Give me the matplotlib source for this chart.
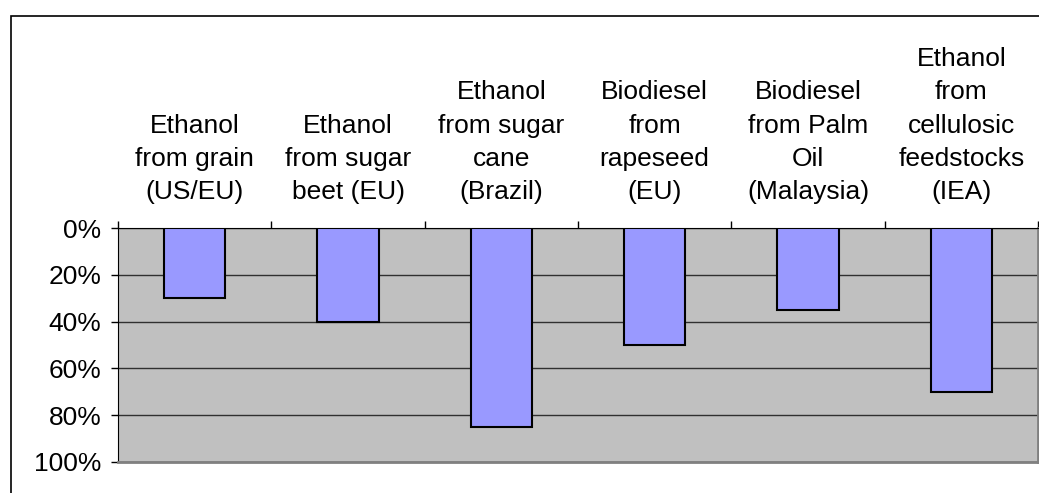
import numpy as np
import matplotlib
matplotlib.use("Agg")
import matplotlib.pyplot as plt
from matplotlib.patches import Rectangle
from matplotlib.ticker import FuncFormatter

plt.rcParams["font.family"] = ["Liberation Sans", "DejaVu Sans"]

categories = [
    "Ethanol\nfrom grain\n(US/EU)",
    "Ethanol\nfrom sugar\nbeet (EU)",
    "Ethanol\nfrom sugar\ncane\n(Brazil)",
    "Biodiesel\nfrom\nrapeseed\n(EU)",
    "Biodiesel\nfrom Palm\nOil\n(Malaysia)",
    "Ethanol\nfrom\ncellulosic\nfeedstocks\n(IEA)",
]
reduction = [30, 40, 85, 50, 35, 70]   # % reduction, plotted downwards
y_ticks = [0, 20, 40, 60, 80, 100]

fig = plt.figure(figsize=(10.39, 4.93), dpi=100)
ax = fig.add_axes([0.1136, 0.0629, 0.8854, 0.4746])

centers = np.arange(len(categories)) + 0.5
ax.bar(centers, reduction, width=0.4, color="#9999FF",
       edgecolor="black", linewidth=1.5, zorder=3)

ax.set_facecolor("#C0C0C0")
ax.set_xlim(0, len(categories))
ax.set_ylim(100, 0)

ax.set_yticks(y_ticks)
ax.yaxis.set_major_formatter(FuncFormatter(lambda v, p: f"{v:.0f}%"))
ax.yaxis.grid(True, color="#303030", linewidth=1.0, zorder=1)
ax.set_axisbelow(True)

# boundary ticks on top, category names as minor tick labels
ax.xaxis.tick_top()
ax.set_xticks(np.arange(len(categories) + 1))
ax.set_xticklabels([])
ax.set_xticks(centers, categories, minor=True)
ax.tick_params(axis="x", which="major", direction="out", length=5,
               width=1, color="black")
ax.tick_params(axis="x", which="minor", length=0, pad=17, labelsize=19)
ax.tick_params(axis="y", direction="out", length=5, width=1,
               labelsize=19, pad=7)
for lbl in ax.get_xticklabels(minor=True):
    lbl.set_linespacing(1.49)

ax.spines["top"].set_color("black")
ax.spines["left"].set_color("black")
ax.spines["right"].set_color("#808080")
ax.spines["bottom"].set_color("#808080")
ax.spines["bottom"].set_linewidth(2)
ax.spines["right"].set_linewidth(2)

# chart frame (cut off on the right/bottom)
fig.patches.append(Rectangle((10.5 / 1039, -0.2), 1.2, 1.2 - 15.5 / 493,
                             transform=fig.transFigure, fill=False,
                             edgecolor="black", linewidth=1.2))

fig.savefig("out.png", dpi=100)
